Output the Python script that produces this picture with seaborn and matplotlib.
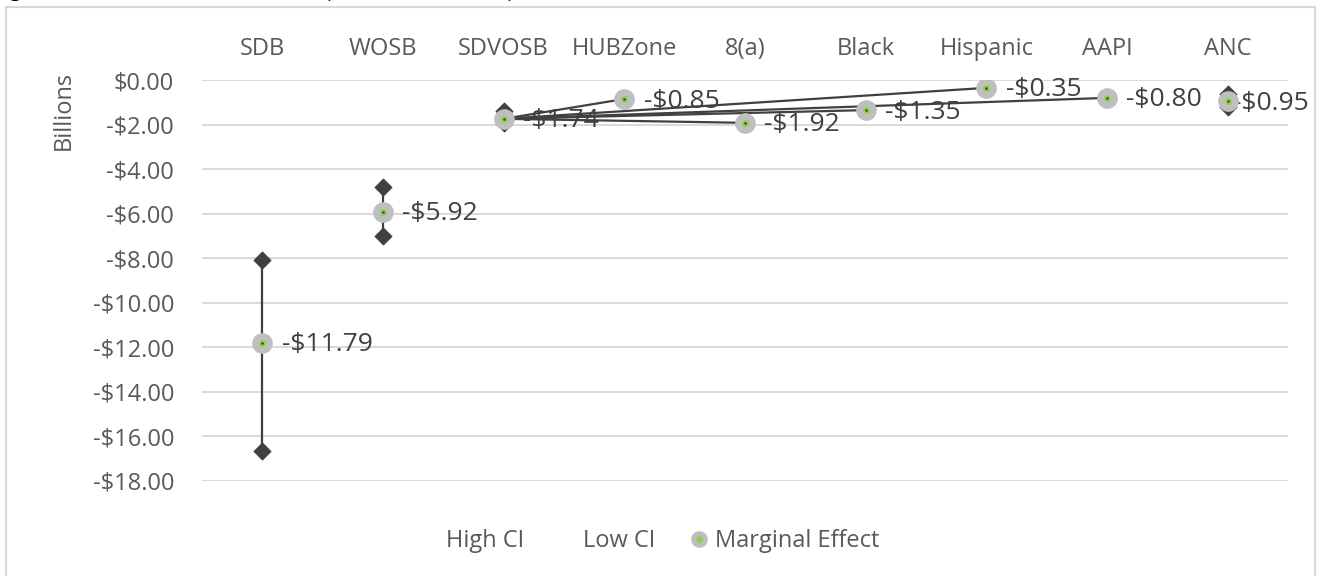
import numpy as np
import pandas as pd
import matplotlib.pyplot as plt
import seaborn as sns
from matplotlib.lines import Line2D
from matplotlib.patches import Rectangle
from matplotlib.ticker import FuncFormatter

categories = ["SDB", "WOSB", "SDVOSB", "HUBZone", "8(a)", "Black", "Hispanic", "AAPI", "ANC"]
marginal_effect = [-11.79, -5.92, -1.74, -0.85, -1.92, -1.35, -0.35, -0.80, -0.95]
high_ci = [-8.07, -4.80, -1.39, np.nan, np.nan, np.nan, np.nan, np.nan, -0.63]
low_ci = [-16.64, -7.00, -1.93, np.nan, np.nan, np.nan, np.nan, np.nan, -1.21]
# high-low lines that got drawn from the SDVOSB column out to these categories
stray_from = "SDVOSB"
stray_to = ["HUBZone", "8(a)", "Black", "Hispanic", "AAPI"]

df = pd.DataFrame({"cat": categories, "me": marginal_effect, "high": high_ci, "low": low_ci})
df["x"] = np.arange(len(df))

sns.set_style("white")
plt.rcParams["font.family"] = ["Open Sans", "DejaVu Sans"]

txt = "#595959"
dark = "#404040"


def money(v, pos=None):
    if v < 0:
        return "-${:.2f}".format(abs(v))
    return "${:.2f}".format(v)


fig = plt.figure(figsize=(13.2, 5.76), dpi=100)
ax = fig.add_axes([202 / 1320, 0.165, (1288 - 202) / 1320, 0.861 - 0.165])

# grid
for yv in np.arange(-18, 0.1, 2):
    ax.axhline(yv, color="#D9D9D9", lw=1.4, zorder=0)

# high-low lines
ci = df.dropna(subset=["high", "low"])
ax.vlines(ci["x"], ci["low"], ci["high"], color=dark, lw=1.6, zorder=3)

# stray lines
x0 = df.loc[df["cat"] == stray_from, "x"].iloc[0]
y0 = df.loc[df["cat"] == stray_from, "me"].iloc[0]
for c in stray_to:
    row = df[df["cat"] == c].iloc[0]
    ax.plot([x0, row["x"]], [y0, row["me"]], color=dark, lw=1.6, zorder=3)

# CI diamonds
sns.scatterplot(data=ci, x="x", y="high", marker="D", s=75, color=dark, edgecolor=dark, ax=ax, zorder=4, legend=False)
sns.scatterplot(data=ci, x="x", y="low", marker="D", s=75, color=dark, edgecolor=dark, ax=ax, zorder=4, legend=False)

# marginal effect markers
sns.scatterplot(data=df, x="x", y="me", s=190, color="#BFBFBF", edgecolor="#BFBFBF", ax=ax, zorder=5, legend=False)
sns.scatterplot(data=df, x="x", y="me", s=22, color="#92D050", edgecolor="#92D050", ax=ax, zorder=6, legend=False)
sns.scatterplot(data=df, x="x", y="me", s=3, color=dark, edgecolor=dark, ax=ax, zorder=7, legend=False)

# data labels
for i, row in df.iterrows():
    dx = 14 if i < len(df) - 1 else 4
    ax.annotate(money(row["me"]), (row["x"], row["me"]), xytext=(dx, -1.5),
                textcoords="offset points", ha="left", va="center",
                fontsize=19, color=dark, zorder=2)

ax.set_xlim(-0.5, len(df) - 0.5)
ax.set_ylim(-18, 0)
ax.set_yticks(np.arange(-18, 0.1, 2))
ax.yaxis.set_major_formatter(FuncFormatter(money))
ax.set_xticks(df["x"])
ax.set_xticklabels(df["cat"])
ax.xaxis.tick_top()
ax.tick_params(axis="x", length=0, pad=14, labelsize=17, labelcolor=txt)
ax.tick_params(axis="y", length=0, pad=20, labelsize=17, labelcolor=txt)
for s in ax.spines.values():
    s.set_visible(False)
ax.set_xlabel("")
ax.set_ylabel("Billions", fontsize=17, color=txt)
ax.yaxis.set_label_coords(-0.116, 0.925)

# legend
h_high = Line2D([], [], linestyle="none")
h_low = Line2D([], [], linestyle="none")
h_me = (Line2D([], [], linestyle="none", marker="o", markersize=11, color="#BFBFBF"),
        Line2D([], [], linestyle="none", marker="o", markersize=4, color="#92D050"))
fig.legend([h_high, h_low, h_me], ["High CI", "Low CI", "Marginal Effect"],
           loc="center", bbox_to_anchor=(0.493, 0.06), ncol=3, frameon=False,
           fontsize=17, labelcolor=txt, handlelength=0.7, handletextpad=0.3,
           columnspacing=1.5)

# chart border and cut off caption
fig.patches.append(Rectangle((6 / 1320, -0.02), 1309 / 1320, (576 - 7) / 576 + 0.02,
                             transform=fig.transFigure, fill=False,
                             edgecolor="#D9D9D9", lw=1.5))
fig.text(-0.009, 1 + 3 / 576, "Figure 3: Estimated Total Losses (FY2019\u2013FY2021)",
         family="Liberation Serif", fontsize=18, va="baseline", ha="left", color="black")

plt.savefig("out.png", dpi=100)
